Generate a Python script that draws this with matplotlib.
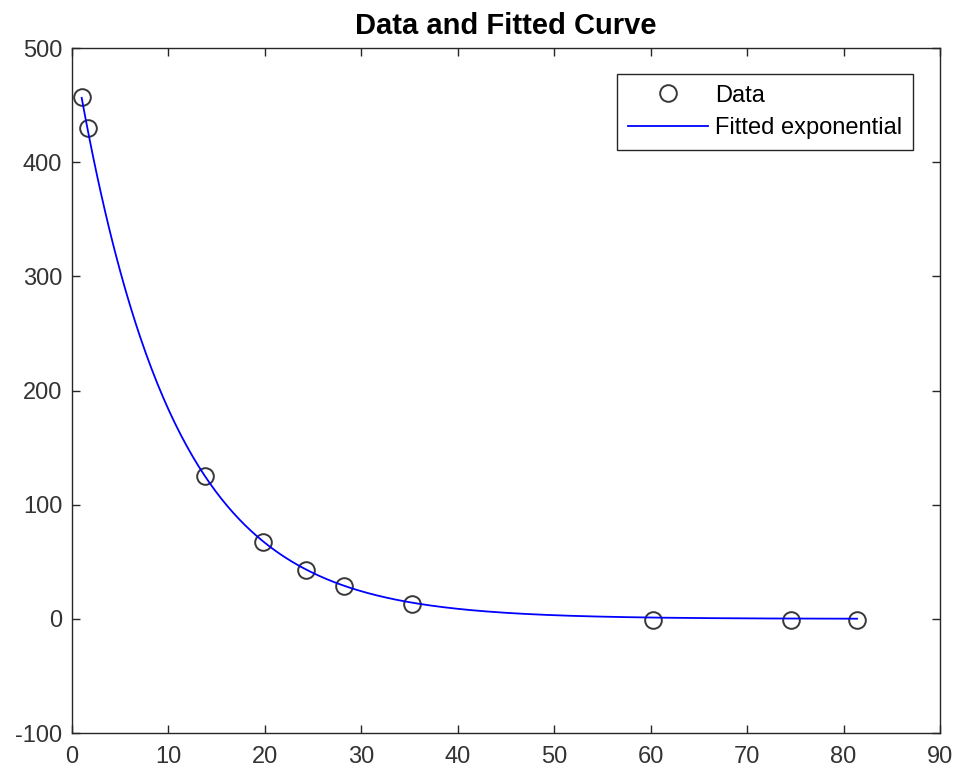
import numpy as np
import matplotlib
matplotlib.use("Agg")
import matplotlib.pyplot as plt

x_data = [1.0, 1.7, 13.8, 19.8, 24.3, 28.2, 35.2, 60.2, 74.6, 81.4]
y_data = [457, 430, 125, 67, 43, 29, 13, -1, -1, -1]

# fitted exponential y = a * exp(-b * x)
fit_a = 505.0
fit_b = 0.1013

plt.rcParams["font.family"] = ["Liberation Sans", "DejaVu Sans"]
plt.rcParams["axes.unicode_minus"] = False

fig = plt.figure(figsize=(9.58, 7.77), dpi=100)
ax = fig.add_axes([0.0752, 0.0566, 0.9060, 0.8816])

x_fit = np.linspace(min(x_data), max(x_data), 400)
y_fit = fit_a * np.exp(-fit_b * x_fit)

ax.plot(x_data, y_data, "o", mfc="none", mec="#383838", ms=12, mew=1.4, label="Data")
ax.plot(x_fit, y_fit, color="#0000ff", lw=1.3, label="Fitted exponential")

ax.set_xlim(0, 90)
ax.set_ylim(-100, 500)
ax.set_xticks(range(0, 91, 10))
ax.set_yticks(range(-100, 501, 100))
ax.tick_params(direction="in", top=True, right=True, length=6, width=1,
               labelsize=17, colors="#262626", labelcolor="#333333")
ax.tick_params(axis="x", pad=9)
ax.tick_params(axis="y", pad=7)
for s in ax.spines.values():
    s.set_color("#262626")
    s.set_linewidth(1)

ax.set_title("Data and Fitted Curve", fontsize=21, fontweight="bold", pad=10)

leg = ax.legend(loc="upper right", bbox_to_anchor=(0.969, 0.962), fontsize=17,
                fancybox=False, framealpha=1, edgecolor="#262626",
                handlelength=3.4, handletextpad=0.3, borderpad=0.45,
                labelspacing=0.45, borderaxespad=0)
leg.get_frame().set_linewidth(1)

fig.savefig("out.png", dpi=100)
